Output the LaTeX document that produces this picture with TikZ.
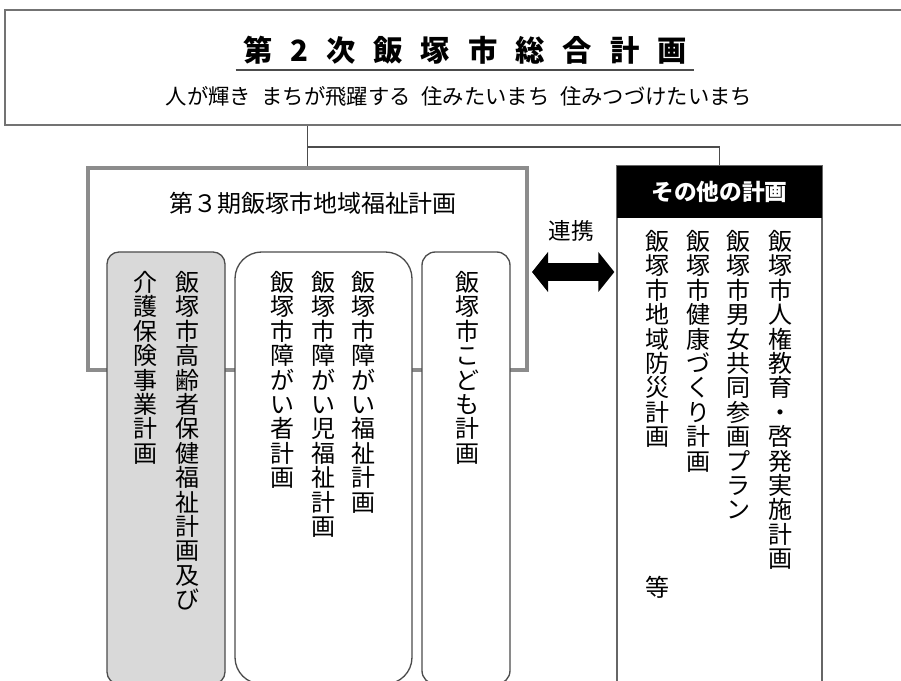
\documentclass[tikz,border=0pt]{standalone}
\usepackage{fontspec}
\setmainfont{Noto Sans CJK JP}
\usetikzlibrary{fit}

\newlength\tatepitch
\setlength\tatepitch{18.3pt}
\newcommand\tate[1]{\vbox{\baselineskip=\tatepitch\lineskiplimit=-20pt\lineskip=0pt\tateaux#1\relax}}
\def\tateaux#1{\ifx#1\relax\else\hbox to 1em{\hss#1\hss}\expandafter\tateaux\fi}
\newcommand\spaced[1]{\spacedaux#1\relax\unskip}
\def\spacedaux#1{\ifx#1\relax\else#1\hskip13.5pt\expandafter\spacedaux\fi}

\begin{document}
\begin{tikzpicture}[x=0.75pt, y=-0.75pt,
  outerbox/.style={draw=black!55, line width=1.6pt, inner sep=0pt},
  welfarebox/.style={draw=black!45, line width=3.5pt, inner sep=0pt},
  subplan/.style={draw=black!70, line width=1pt, fill=white, inner sep=0pt},
  tatecol/.style={anchor=north, inner sep=0pt, font=\fontsize{18}{18}\selectfont},
  linkline/.style={draw=black!70, line width=1pt}]

\useasboundingbox (0,0) rectangle (901,681);

\node[fit={(5,10) (910,125)}, outerbox] (total) {};

\node[font=\bfseries\fontsize{22}{22}\selectfont] (title) at (465,50) {\spaced{第2次飯塚市総合計画}};

\draw[black!70, line width=2pt] ([xshift=-2pt]title.west |- 0,70) -- ([xshift=2pt]title.east |- 0,70);

\node[font=\fontsize{16}{16}\selectfont] (motto) at (459,96) {人が輝き\hspace{0.5em}まちが飛躍する\hspace{0.5em}住みたいまち\hspace{0.5em}住みつづけたいまち};

\node[fit={(88,168) (527,370)}, welfarebox] (welfare) {};

\node[font=\fontsize{18}{18}\selectfont] (welfaretitle) at (313,203) {第３期飯塚市地域福祉計画};

\node[fit={(107,252) (225,684)}, subplan, fill=black!15, rounded corners=9pt] (elder) {};

\node[fit={(235,252) (412,684)}, subplan, rounded corners=20pt] (disab) {};

\node[fit={(422,252) (510,684)}, subplan, rounded corners=10pt] (child) {};

\node[tatecol] (elder1) at (187,271) {\tate{飯塚市高齢者保健福祉計画及び}};
\node[tatecol] (elder2) at (145,271) {\tate{介護保険事業計画}};

\node[tatecol] (disab1) at (363,271) {\tate{飯塚市障がい福祉計画}};
\node[tatecol] (disab2) at (323,271) {\tate{飯塚市障がい児福祉計画}};
\node[tatecol] (disab3) at (282,271) {\tate{飯塚市障がい者計画}};

\node[tatecol] (child1) at (467,271) {\tate{飯塚市こども計画}};

\node[fit={(617,166) (822,700)}, draw=black!60, line width=2pt, inner sep=0pt] (other) {};

\node[fit={(617,166) (822,218)}, fill=black, inner sep=0pt] (otherhead) {};

\node[text=white, font=\bfseries\fontsize{17}{17}\selectfont] (othertitle) at (otherhead.center) {その他の計画};

\node[tatecol] (other1) at (780,230) {\tate{飯塚市人権教育・啓発実施計画}};
\node[tatecol] (other2) at (738,230) {\tate{飯塚市男女共同参画プラン}};
\node[tatecol] (other3) at (698,230) {\tate{飯塚市健康づくり計画}};
\node[tatecol] (other4) at (657,230) {\tate{飯塚市地域防災計画}};

\node[font=\fontsize{18}{18}\selectfont] (etc) at (657,587) {等};

\coordinate (split) at (0,147);
\coordinate (mid) at (0,272);

\draw[linkline] (total.south -| welfare.north) -- (welfare.north);

\draw[linkline] (welfare.north |- split) -| (other.north);

\coordinate (la) at ([xshift=2pt]welfare.east |- mid);
\coordinate (ra) at ([xshift=-1pt]other.west |- mid);

\fill (la) -- +(16,-20) -- +(16,20) -- cycle;
\fill (ra) -- +(-16,-20) -- +(-16,20) -- cycle;
\draw[line width=13pt] ([xshift=10pt]la) -- ([xshift=-10pt]ra);

\node[font=\fontsize{17}{17}\selectfont] (linklabel) at (571,231) {連携};

\end{tikzpicture}
\end{document}
